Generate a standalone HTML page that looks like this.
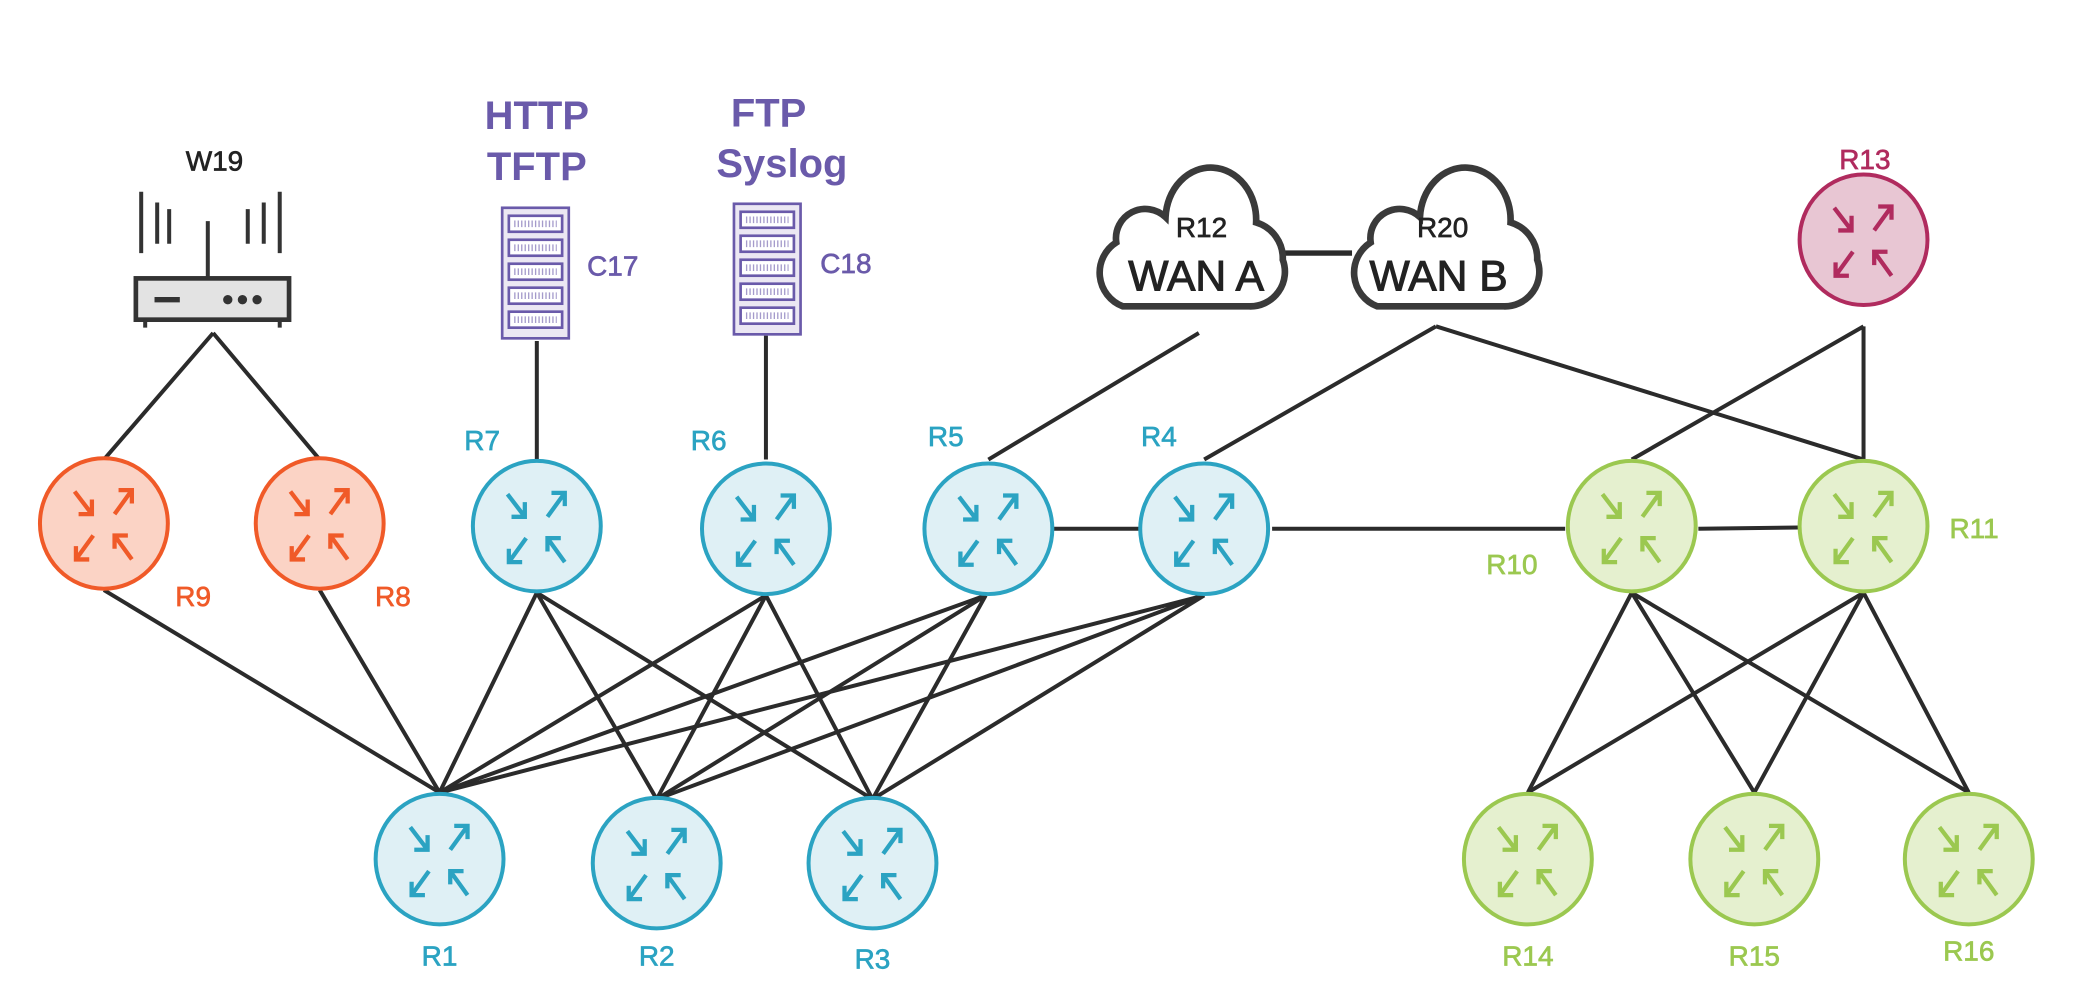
<!DOCTYPE html>
<html><head><meta charset="utf-8"><style>
html,body{margin:0;padding:0;background:#fff;}
svg{display:block;}
text{font-family:"Liberation Sans",sans-serif;}
</style></head><body>
<svg width="2078" height="985" viewBox="0 0 1560 739.5" preserveAspectRatio="none" xmlns="http://www.w3.org/2000/svg">
<defs>
<g id="arr" fill="none" stroke-width="3.2">
  <path d="M-22,-24 L-9,-7 M-19,-7 H-9 V-18"/>
  <path d="M8,-7 L21,-25 M11,-25 H21 V-15"/>
  <path d="M-8,9 L-21,27 M-21,17 V27 H-11"/>
  <path d="M21,27 L8,9 M8,19 V9 H18"/>
</g>
</defs>
<g stroke="#2b2b2b" stroke-width="3" fill="none">
  <path d="M160,250 L78,345 M160,250 L240,345"/>
  <path d="M403,256 L403,345 M575,252 L575,345"/>
  <path d="M900,250 L742,345"/>
  <path d="M1078,245 L904,345 M1078,245 L1399,345"/>
  <path d="M1399,245 L1399,345 M1399,245 L1225,345"/>
  <path d="M790,397 H855 M955,397 H1175 M1275,397 L1350,396"/>
  <path d="M960,190 H1015" stroke-width="4"/>
  <path d="M78,443 L330,595 M240,443 L330,595"/>
  <path d="M403,445 L330,595 M403,445 L493,600 M403,445 L655,600"/>
  <path d="M575,447 L330,595 M575,447 L493,600 M575,447 L655,600"/>
  <path d="M740,447 L330,595 M740,447 L493,600 M740,447 L655,600"/>
  <path d="M904,447 L330,595 M904,447 L493,600 M904,447 L655,600"/>
  <path d="M1225,445 L1147,595 M1225,445 L1317,595 M1225,445 L1478,595"/>
  <path d="M1399,445 L1147,595 M1399,445 L1317,595 M1399,445 L1478,595"/>
</g>

<g stroke-width="3">
  <g fill="#fbd3c5" stroke="#f05a28"><ellipse cx="78" cy="393" rx="48" ry="49"/><ellipse cx="240" cy="393" rx="48" ry="49"/></g>
  <g fill="#dff0f5" stroke="#2ba3c2">
    <ellipse cx="403" cy="395" rx="48" ry="49"/><ellipse cx="575" cy="397" rx="48" ry="49"/>
    <ellipse cx="742" cy="397" rx="48" ry="49"/><ellipse cx="904" cy="397" rx="48" ry="49"/>
    <ellipse cx="330" cy="645" rx="48" ry="49"/><ellipse cx="493" cy="648" rx="48" ry="49"/><ellipse cx="655" cy="648" rx="48" ry="49"/>
  </g>
  <g fill="#e5f0cf" stroke="#9bc850">
    <ellipse cx="1225" cy="395" rx="48" ry="49"/><ellipse cx="1399" cy="395" rx="48" ry="49"/>
    <ellipse cx="1147" cy="645" rx="48" ry="49"/><ellipse cx="1317" cy="645" rx="48" ry="49"/><ellipse cx="1478" cy="645" rx="48" ry="49"/>
  </g>
  <ellipse cx="1399" cy="180" rx="48" ry="49" fill="#e8c6d3" stroke="#b02b5e"/>
</g>
<g stroke="#f05a28"><use href="#arr" x="78" y="393"/><use href="#arr" x="240" y="393"/></g>
<g stroke="#2ba3c2"><use href="#arr" x="403" y="395"/><use href="#arr" x="575" y="397"/><use href="#arr" x="742" y="397"/><use href="#arr" x="904" y="397"/><use href="#arr" x="330" y="645"/><use href="#arr" x="493" y="648"/><use href="#arr" x="655" y="648"/></g>
<g stroke="#9bc850"><use href="#arr" x="1225" y="395"/><use href="#arr" x="1399" y="395"/><use href="#arr" x="1147" y="645"/><use href="#arr" x="1317" y="645"/><use href="#arr" x="1478" y="645"/></g>
<g stroke="#b02b5e"><use href="#arr" x="1399" y="180"/></g>

<g font-size="21" text-anchor="middle" stroke-width="0.5">
  <g fill="#f05a28" stroke="#f05a28"><text x="145" y="455">R9</text><text x="295" y="455">R8</text></g>
  <g fill="#2ba3c2" stroke="#2ba3c2"><text x="362" y="338">R7</text><text x="532" y="338">R6</text><text x="710" y="335">R5</text><text x="870" y="335">R4</text>
    <text x="330" y="725">R1</text><text x="493" y="725">R2</text><text x="655" y="727">R3</text></g>
  <g fill="#9bc850" stroke="#9bc850"><text x="1135" y="431">R10</text><text x="1482" y="404">R11</text>
    <text x="1147" y="725">R14</text><text x="1317" y="725">R15</text><text x="1478" y="721">R16</text></g>
  <text x="1400" y="127" fill="#b02b5e" stroke="#b02b5e">R13</text>
  <text x="161" y="128" fill="#222" stroke="#222">W19</text>
  <g fill="#6a5aaa" stroke="#6a5aaa"><text x="460" y="207">C17</text><text x="635" y="205">C18</text></g>
</g>
<g font-size="30" text-anchor="middle" fill="#6a5aaa" font-weight="bold">
  <text x="403" y="97">HTTP</text><text x="403" y="135">TFTP</text>
  <text x="577" y="95">FTP</text><text x="587" y="133">Syslog</text>
</g>

<g stroke="#333" stroke-width="3" fill="none">
  <path d="M106,144 V190 M118,152 V183 M127,157 V183 M210,144 V190 M198,152 V183 M186,157 V183 M156,166 V208"/>
  <rect x="102" y="209" width="115" height="31" fill="#e3e3e3" stroke-width="3.5"/>
  <path d="M109,240 V246 M210,240 V246"/>
  <path d="M116,225 H135" stroke-width="4"/>
</g>
<g fill="#333"><circle cx="171" cy="225" r="3.5"/><circle cx="182" cy="225" r="3.5"/><circle cx="193" cy="225" r="3.5"/></g>

<g stroke="#6a5aaa" stroke-width="2" fill="#ebe7f3">
  <rect x="377" y="156" width="50" height="98"/>
  <rect x="551" y="153" width="50" height="98"/>
</g>
<g stroke="#6a5aaa" stroke-width="2" fill="#fff">
  <rect x="382" y="162" width="40" height="12"/><rect x="382" y="180" width="40" height="12"/><rect x="382" y="198" width="40" height="12"/><rect x="382" y="216" width="40" height="12"/><rect x="382" y="234" width="40" height="12"/>
  <rect x="556" y="159" width="40" height="12"/><rect x="556" y="177" width="40" height="12"/><rect x="556" y="195" width="40" height="12"/><rect x="556" y="213" width="40" height="12"/><rect x="556" y="231" width="40" height="12"/>
</g>
<g stroke="#6a5aaa" stroke-width="5" stroke-dasharray="1 1.6" opacity="0.6">
  <path d="M386,168 H418 M386,186 H418 M386,204 H418 M386,222 H418 M386,240 H418"/>
  <path d="M560,165 H592 M560,183 H592 M560,201 H592 M560,219 H592 M560,237 H592"/>
</g>

<g stroke="#3a3a3a" stroke-width="5" fill="#fff">
  <path transform="translate(893,190)" d="M-50,40 H45 A26,26 0 0 0 70,5 A28,28 0 0 0 50,-23 A33,38 0 0 0 -18,-27 A22,22 0 0 0 -55,-8 A27,27 0 0 0 -50,40 Z"/>
  <path transform="translate(1084,190)" d="M-50,40 H45 A26,26 0 0 0 70,5 A28,28 0 0 0 50,-23 A33,38 0 0 0 -18,-27 A22,22 0 0 0 -55,-8 A27,27 0 0 0 -50,40 Z"/>
</g>
<g text-anchor="middle" fill="#222">
  <text x="902" y="178" font-size="21" stroke="#222" stroke-width="0.5">R12</text><text x="898" y="218" font-size="32" stroke="#222" stroke-width="0.8">WAN A</text>
  <text x="1083" y="178" font-size="21" stroke="#222" stroke-width="0.5">R20</text><text x="1080" y="218" font-size="32" stroke="#222" stroke-width="0.8">WAN B</text>
</g>
</svg>
</body></html>
